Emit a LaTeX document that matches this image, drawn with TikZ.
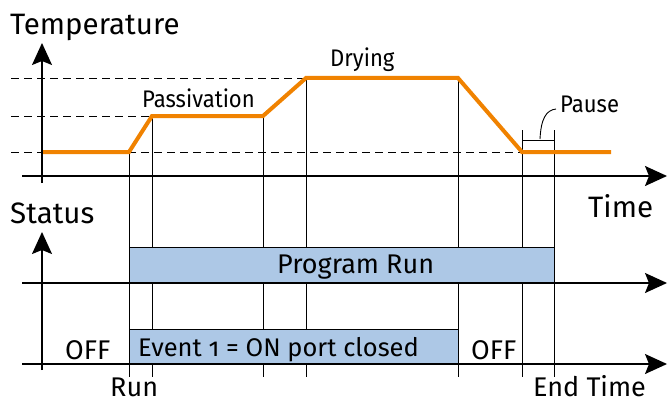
\documentclass[tikz,border=0pt]{standalone}
\usepackage{fontspec}
\setmainfont{Fira Sans}[Numbers=OldStyle]
\newfontfamily\condfont{Fira Sans}[FakeStretch=0.92,Numbers=OldStyle]
\usetikzlibrary{arrows.meta}
\definecolor{orng}{RGB}{240,130,0}
\definecolor{boxblue}{RGB}{173,200,230}
\begin{document}
\begin{tikzpicture}[x=1pt,y=-1pt,
  axis/.style={line width=1.6pt,-{Stealth[length=22pt,width=20pt,inset=4pt]}},
  guide/.style={line width=0.9pt},
  dashline/.style={line width=0.9pt,dash pattern=on 8pt off 5pt},
  temp/.style={orng,line width=4pt},
  bar/.style={draw,fill=boxblue,line width=1pt},
  big/.style={font=\fontsize{29.5}{33}\selectfont,inner sep=0pt,anchor=base west},
  upl/.style={font=\condfont\fontsize{24}{28}\selectfont,inner sep=0pt,anchor=base west},
  lbl/.style={font=\fontsize{27}{30}\selectfont,inner sep=0pt,anchor=base west}]
\useasboundingbox (0,0) rectangle (668,401);
% key points of temperature curve
\coordinate (p0) at (43,152);
\coordinate (p1) at (129,152);
\coordinate (p2) at (152,116);
\coordinate (p3) at (263,116);
\coordinate (p4) at (306,78);
\coordinate (p5) at (458,78);
\coordinate (p6) at (522,152);
\coordinate (p7) at (611,152);
\coordinate (q6) at (522,130);
\coordinate (q7) at (554,130);
\coordinate (bot) at (0,377);
% dashed levels
\coordinate (d1) at (11,78);
\coordinate (d2) at (11,116);
\coordinate (d3) at (11,152);
\draw[dashline] (d1) -- (p4);
\draw[dashline] (d2) -- (p2);
\draw[dashline] (d3) -- (p6);
% vertical guides
\foreach \c in {p1,p2,p3,p4,p5,q6,q7}
  \draw[guide] (\c) -- (\c |- bot);
% pause bracket
\coordinate (pb1) at (522,140);
\coordinate (pb2) at (554,140);
\draw[guide] (pb1) -- (pb2);
\coordinate (pl0) at (540,139);
\coordinate (pl1) at (556,109);
\draw[guide] (pl0) .. controls (541,119) and (546,110) .. (pl1);
% bars
\coordinate (r1a) at (129,247);
\coordinate (r1b) at (554,283);
\coordinate (r2a) at (129,329);
\coordinate (r2b) at (458,364);
\draw[bar] (r1a) rectangle (r1b);
\draw[bar] (r2a) rectangle (r2b);
% axes
\coordinate (ty0) at (42,183);
\coordinate (ty1) at (42,43);
\coordinate (tx0) at (22,176);
\coordinate (tx1) at (667,176);
\coordinate (sy0) at (42,370);
\coordinate (sy1) at (42,232);
\coordinate (s1a) at (22,283);
\coordinate (s1b) at (667,283);
\coordinate (s2a) at (22,364);
\coordinate (s2b) at (667,364);
\draw[axis] (ty0) -- (ty1);
\draw[axis] (tx0) -- (tx1);
\draw[axis] (sy0) -- (sy1);
\draw[axis] (s1a) -- (s1b);
\draw[axis] (s2a) -- (s2b);
% temperature curve
\draw[temp] (p0) -- (p1) -- (p2) -- (p3) -- (p4) -- (p5) -- (p6) -- (p7);
% labels
\node[big] (ttemp) at (10,35) {Temperature};
\node[big] (tstat) at (10,223) {Status};
\node[big] (ttime) at (588,217) {Time};
\node[upl] (tpass) at (142,107) {Passivation};
\node[upl] (tdry) at (330,67) {Drying};
\node[upl] (tpause) at (560,113) {Pause};
\node[lbl] (tprog) at (277,273) {Program Run};
\node[lbl,font=\fontsize{25.5}{30}\selectfont] (tev) at (138,356) {Event 1 = ON port closed};
\node[lbl] (toff1) at (65,359) {OFF};
\node[lbl] (toff2) at (471,359) {OFF};
\node[lbl] (trun) at (110,396) {Run};
\node[lbl] (tend) at (533,396) {End Time};
\end{tikzpicture}
\end{document}
